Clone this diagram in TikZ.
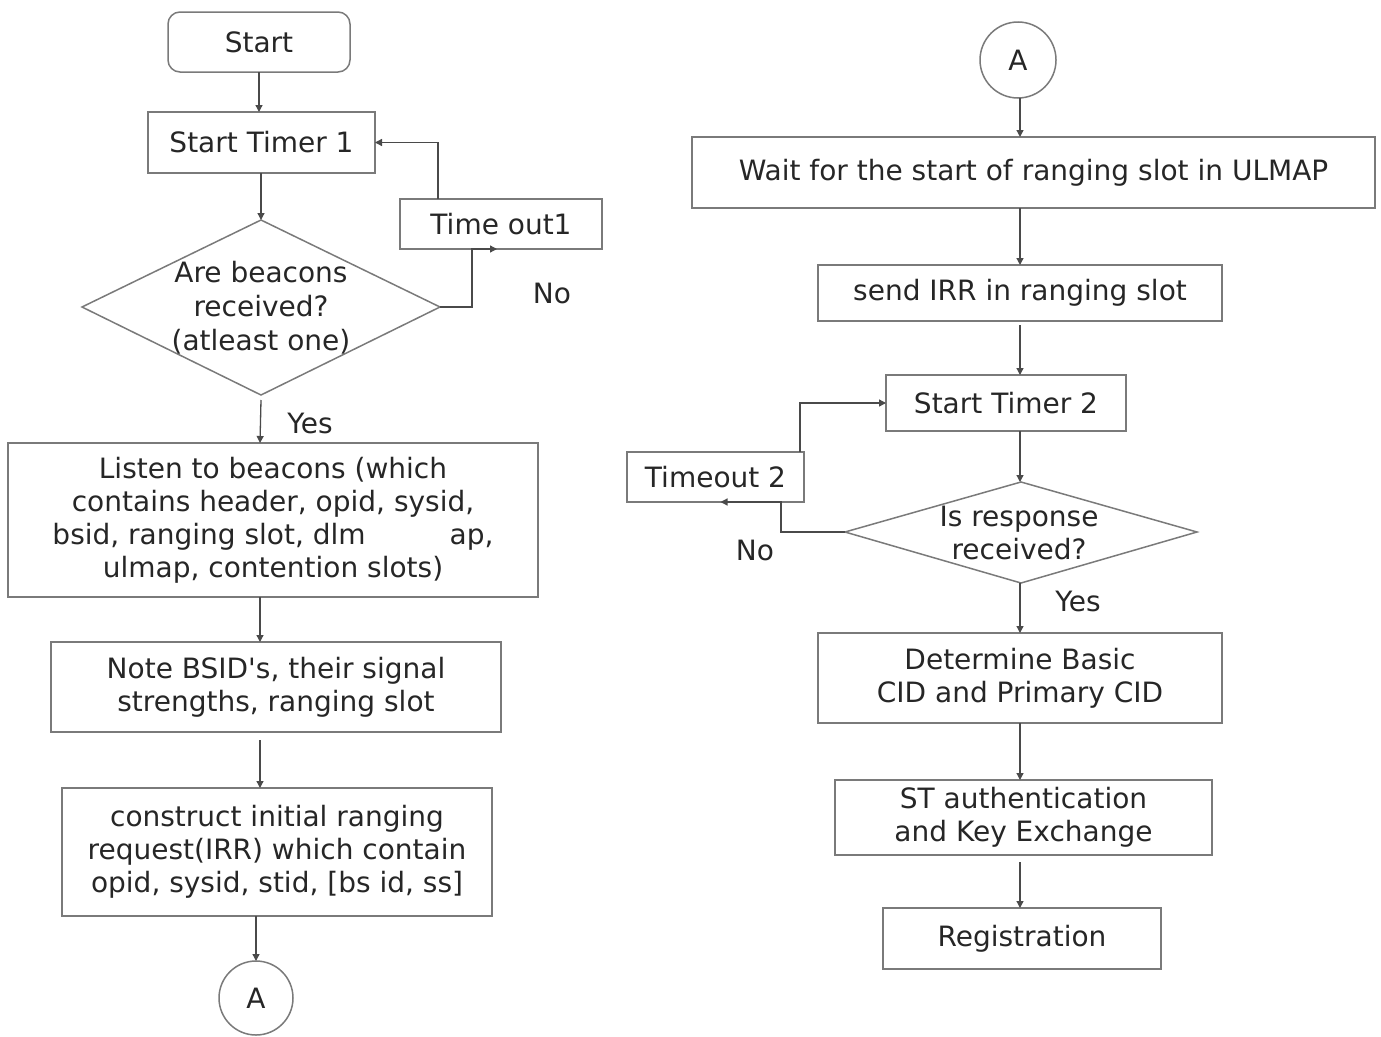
\documentclass[tikz,border=0pt]{standalone}
\usepackage{fontspec}
\setmainfont{DejaVu Sans}
\usetikzlibrary{arrows.meta,calc}
\definecolor{boxgray}{HTML}{7A7A7A}
\definecolor{linegray}{HTML}{4A4A4A}
\definecolor{txt}{HTML}{262626}
\tikzset{
  fnt/.style={font=\fontsize{28}{33}\selectfont, text=txt},
  box/.style={fnt, draw=boxgray, line width=1.5pt, inner sep=0pt, outer sep=0pt, align=center, rectangle},
  dtext/.style={fnt, align=center, inner sep=0pt},
  arr/.style={draw=linegray, line width=1.3pt, -{Triangle[length=7pt,width=7pt]}},
  lbl/.style={fnt, inner sep=0pt}
}
\begin{document}
\begin{tikzpicture}[x=1pt,y=-1pt]
\useasboundingbox (0,0) rectangle (1381,1036);
% ---------- left column ----------
\node[box, rounded corners=12pt, minimum width=182pt, minimum height=60pt] (start) at (259,42) {Start};
\node[box, minimum width=227pt, minimum height=61pt] (t1) at (261.5,142.5) {Start Timer 1};
\node[box, minimum width=202pt, minimum height=50pt] (to1) at (501,224) {Time out1};
\coordinate (d1n) at (261,220);
\coordinate (d1s) at (261,395);
\coordinate (d1w) at (82,307);
\coordinate (d1e) at (440,307);
\draw[draw=boxgray, line width=1.5pt] (d1n) -- (d1e) -- (d1s) -- (d1w) -- cycle;
\node[dtext, font=\fontsize{28}{34}\selectfont] (d1) at (261,308) {Are beacons\\received?\\(atleast one)};
\node[box, minimum width=530pt, minimum height=154pt] (listen) at (273,520)
  {Listen to beacons (which\\contains header, opid, sysid,\\bsid, ranging slot, dlm\hspace{84pt}ap,\\ulmap, contention slots)};
\node[box, minimum width=450pt, minimum height=90pt] (note) at (276,687)
  {Note BSID\textquotesingle s, their signal\\strengths, ranging slot};
\node[box, minimum width=430pt, minimum height=128pt] (cons) at (277,852)
  {construct initial ranging\\request(IRR) which contain\\opid, sysid, stid, [bs id, ss]};
\node[box, circle, minimum size=74pt] (a1) at (256,998) {A};
\node[lbl] (no1) at (552,293) {No};
\node[lbl] (yes1) at (310,423) {Yes};
% left connectors
\draw[arr] (start.south) -- (start.south |- t1.north);
\draw[arr] (t1.south -| d1n) -- (d1n);
\draw[arr] (d1e) -- ++(32,0) |- ([xshift=-4pt]to1.south);
\draw[arr] ([xshift=-63pt]to1.north) |- (t1.east);
\draw[arr] ([yshift=-5pt]d1s) -- ([xshift=-1pt]d1s |- listen.north);
\draw[arr] ([xshift=-13pt]listen.south) -- ([xshift=-13pt]listen.south |- note.north);
\draw[arr] ([xshift=-16pt,yshift=-8pt]note.south) -- ([xshift=-16pt]note.south |- cons.north);
\draw[arr] (cons.south -| a1) -- (a1.north);
% ---------- right column ----------
\node[box, circle, minimum size=76pt] (a2) at (1018,60) {A};
\node[box, minimum width=683pt, minimum height=71pt] (wait) at (1033.5,172.5) {Wait for the start of ranging slot in ULMAP};
\node[box, minimum width=404pt, minimum height=56pt] (irr) at (1020,293) {send IRR in ranging slot};
\node[box, minimum width=240pt, minimum height=56pt] (t2) at (1006,403) {Start Timer 2};
\node[box, minimum width=177pt, minimum height=50pt] (to2) at (715.5,477) {Timeout 2};
\coordinate (d2n) at (1021,482);
\coordinate (d2s) at (1021,583);
\coordinate (d2w) at (845,532);
\coordinate (d2e) at (1197,532);
\draw[draw=boxgray, line width=1.5pt] (d2n) -- (d2e) -- (d2s) -- (d2w) -- cycle;
\node[dtext] (d2) at (1019,533) {Is response\\received?};
\node[box, minimum width=404pt, minimum height=90pt] (det) at (1020,678) {Determine Basic\\CID and Primary CID};
\node[box, minimum width=377pt, minimum height=75pt] (st) at (1023.5,817.5) {ST authentication\\and Key Exchange};
\node[box, minimum width=278pt, minimum height=61pt] (reg) at (1022,938.5) {Registration};
\node[lbl] (no2) at (755,550) {No};
\node[lbl] (yes2) at (1078,601) {Yes};
% right connectors
\draw[arr] ([xshift=2pt]a2.south) -- ([xshift=2pt]a2.south |- wait.north);
\draw[arr] (irr.north |- wait.south) -- (irr.north);
\draw[arr] ([yshift=-4pt]irr.south) -- (irr.south |- t2.north);
\draw[arr] (irr.south |- t2.south) -- ([xshift=-1pt]d2n);
\draw[arr] (d2w) -| ([xshift=65.5pt]to2.south) -- ([xshift=5pt]to2.south);
\draw[arr] ([xshift=84.5pt]to2.north) |- (t2.west);
\draw[arr] ([xshift=-1pt]d2s) -- ([xshift=-1pt]d2s |- det.north);
\draw[arr] (det.south) -- (det.south |- st.north);
\draw[arr] ([xshift=-3.5pt,yshift=-7pt]st.south) -- ([xshift=-3.5pt]st.south |- reg.north);
\end{tikzpicture}
\end{document}
